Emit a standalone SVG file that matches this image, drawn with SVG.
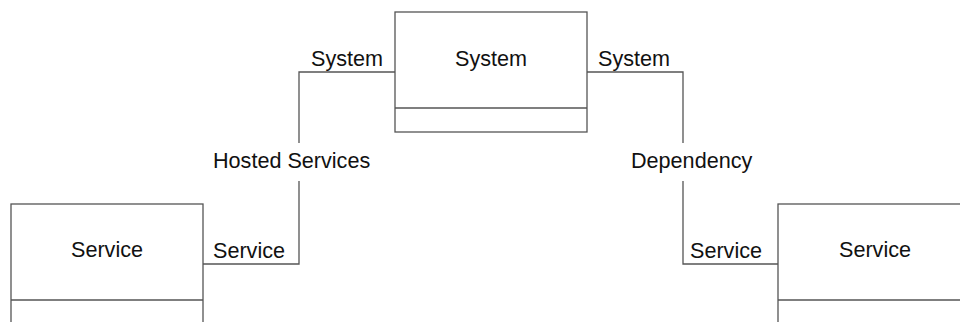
<svg xmlns="http://www.w3.org/2000/svg" width="960" height="322" viewBox="0 0 960 322">
<style>
.box{fill:#fff;stroke:#555;stroke-width:1.3}
.ln{fill:none;stroke:#555;stroke-width:1.3}
text{font-family:"Liberation Sans",Arial,sans-serif;font-size:21.6px;fill:#111}
.c{text-anchor:middle}
</style>
<rect width="960" height="322" fill="#fff"/>
<g id="connectors">
<path class="ln" d="M395,72 H299 V143 M299,181 V264 H203"/>
<path class="ln" d="M587,72 H683 V143 M683,181 V264 H778"/>
<text x="311" y="66">System</text>
<text x="213" y="168">Hosted Services</text>
<text x="213" y="258">Service</text>
<text x="598" y="66">System</text>
<text x="631" y="168">Dependency</text>
<text x="690" y="258">Service</text>
</g>
<g id="system">
<rect class="box" x="395" y="12" width="192" height="120"/>
<line class="ln" x1="395" y1="108" x2="587" y2="108"/>
<text class="c" x="491" y="66">System</text>
</g>
<g id="service-left">
<rect class="box" x="11" y="204" width="192" height="140"/>
<line class="ln" x1="11" y1="300" x2="203" y2="300"/>
<text class="c" x="107" y="257">Service</text>
</g>
<g id="service-right">
<rect class="box" x="778" y="204" width="192" height="140"/>
<line class="ln" x1="778" y1="300" x2="970" y2="300"/>
<text class="c" x="875" y="257">Service</text>
</g>
</svg>
